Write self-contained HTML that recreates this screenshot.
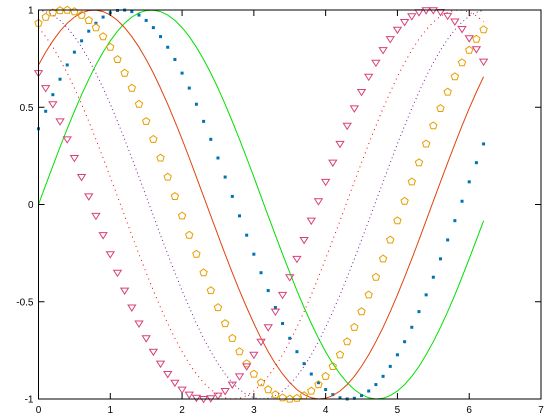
<!DOCTYPE html>
<html><head><meta charset="utf-8"><style>
html,body{margin:0;padding:0;background:#fff}
svg{display:block;font-family:"Liberation Sans",sans-serif}
</style></head><body>
<svg id="chart" width="560" height="420" viewBox="0 0 560 420" xmlns="http://www.w3.org/2000/svg">
<g id="marks"></g>
<g id="axes"></g>
</svg>
<script>
// sampled sine table (values at 0.1 steps), series are phase-shifted slices
const sineTable = [0,.0998,.1987,.2955,.3894,.4794,.5646,.6442,.7174,.7833,.8415,.8912,.9320,.9636,.9854,.9975,.9996,.9917,.9738,.9463,.9093,.8632,.8085,.7457,.6755,.5985,.5155,.4274,.3350,.2392,.1411,.0416,-.0584,-.1577,-.2555,-.3508,-.4425,-.5298,-.6119,-.6878,-.7568,-.8183,-.8716,-.9162,-.9516,-.9775,-.9937,-.9999,-.9962,-.9825,-.9589,-.9258,-.8835,-.8323,-.7728,-.7055,-.6313,-.5507,-.4646,-.3739,-.2794,-.1822,-.0831,.0168,.1165,.2151,.3115,.4048,.4941,.5784,.6570,.7290,.7937,.8504,.8987,.9380,.9679,.9882,.9985,.9989,.9894,.9699,.9407,.9022,.8546,.7985,.7344];
const xStep = 0.1;
const pointCount = 63;
const seriesOffsets = [0,4,8,12,16,20,24];
const seriesNames = ['green-line','blue-squares','red-line','orange-pentagons','purple-dots','red-dots','pink-triangles'];
const xTicks = [0,1,2,3,4,5,6,7];
const yTicks = [1,0.5,0,-0.5,-1];
const xTickLabels = ['0','1','2','3','4','5','6','7'];
const yTickLabels = ['1','0.5','0','-0.5','-1'];

const L=38.5,R=541,T=10,B=399;
const sx=v=>L+(v-0)/(7-0)*(R-L);
const sy=v=>B-(v+1)/2*(B-T);
const NS='http://www.w3.org/2000/svg';
const marks=document.getElementById('marks'), axes=document.getElementById('axes');
function mk(tag,attrs,parent){const e=document.createElementNS(NS,tag);for(const k in attrs)e.setAttribute(k,attrs[k]);parent.appendChild(e);return e;}

const series = seriesOffsets.map(o=>sineTable.slice(o,o+pointCount));
const styles=[
 {type:'line',color:'#00e000',dash:null},
 {type:'square',color:'#0072b2'},
 {type:'line',color:'#e0440e',dash:null},
 {type:'pentagon',color:'#e69f00'},
 {type:'line',color:'#7a1f9a',dash:'1,3'},
 {type:'line',color:'#ff0000',dash:'1,4'},
 {type:'triangle',color:'#d6407a'}
];
series.forEach((vals,si)=>{
  const st=styles[si];
  const g=mk('g',{},marks);
  
  
  if(st.type==='line'){
    const pts=vals.map((v,i)=>sx(i*xStep).toFixed(1)+','+sy(v).toFixed(1)).join(' ');
    const a={points:pts,fill:'none',stroke:st.color,'stroke-width':1};
    if(st.dash)a['stroke-dasharray']=st.dash;
    mk('polyline',a,g);
  } else {
    vals.forEach((v,i)=>{
      const x=sx(i*xStep),y=sy(v);
      let e;
      if(st.type==='square'){
        e=mk('rect',{x:x-1.5,y:y-1.5,width:3,height:3,fill:st.color},g);
      } else if(st.type==='pentagon'){
        const p=[];for(let k=0;k<5;k++){const a=-Math.PI/2+k*2*Math.PI/5;p.push((x+3.8*Math.cos(a)).toFixed(1)+','+(y+3.8*Math.sin(a)).toFixed(1));}
        e=mk('polygon',{points:p.join(' '),fill:'none',stroke:st.color,'stroke-width':1},g);
      } else {
        e=mk('polygon',{points:`${x-3.8},${y-2.5} ${x+3.8},${y-2.5} ${x},${y+3.5}`,fill:'none',stroke:st.color,'stroke-width':1},g);
      }
      
      
    });
  }
});

const frame=mk('rect',{x:L,y:T,width:R-L,height:B-T,fill:'none',stroke:'#000','stroke-width':1},axes);


xTicks.forEach((t,i)=>{
  const x=sx(t);
  mk('line',{x1:x,y1:B,x2:x,y2:B-6,stroke:'#000'},axes);
  mk('line',{x1:x,y1:T,x2:x,y2:T+6,stroke:'#000'},axes);
  const tx=mk('text',{x:x,y:B+14,'font-size':10,'text-anchor':'middle',fill:'#000'},axes);
  tx.textContent=xTickLabels[i];
  
  
});
yTicks.forEach((t,i)=>{
  const y=sy(t);
  mk('line',{x1:L,y1:y,x2:L+6,y2:y,stroke:'#000'},axes);
  mk('line',{x1:R,y1:y,x2:R-6,y2:y,stroke:'#000'},axes);
  const tx=mk('text',{x:L-5,y:y+3.5,'font-size':10,'text-anchor':'end',fill:'#000'},axes);
  tx.textContent=yTickLabels[i];
  
  
});
</script>
</body></html>
